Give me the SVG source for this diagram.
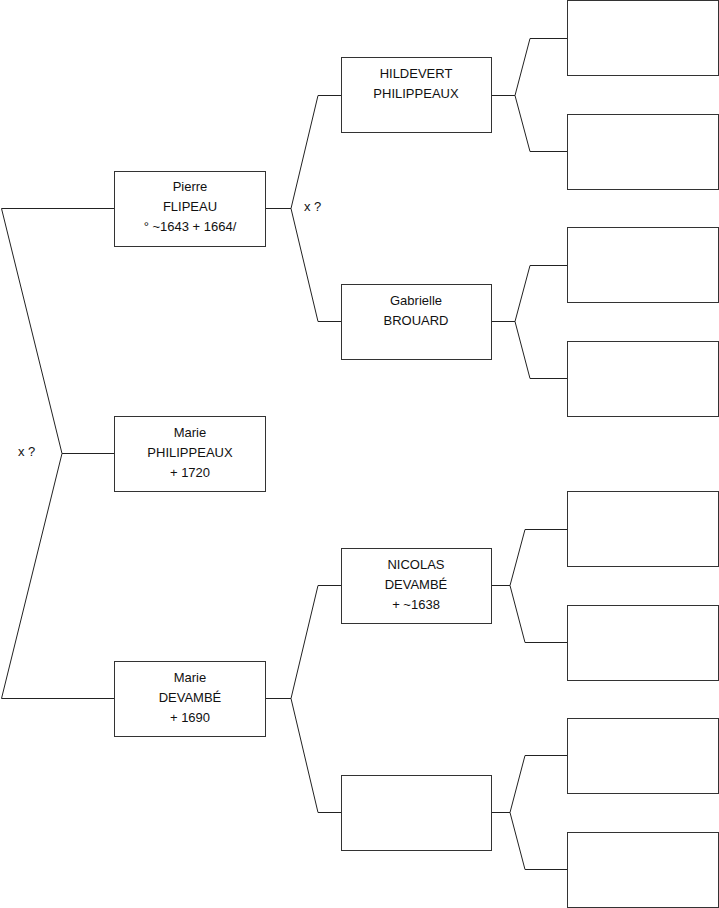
<svg xmlns="http://www.w3.org/2000/svg" width="719" height="908" viewBox="0 0 719 908">
<style>
.box{fill:#fff;stroke:#333;stroke-width:1}
.ln{fill:none;stroke:#222;stroke-width:1}
text{font-family:"Liberation Sans",Arial,sans-serif;font-size:13px;fill:#111;text-anchor:middle}
.lbl{text-anchor:start}
</style>
<rect width="719" height="908" fill="#fff"/>
<g id="connectors">
<path class="ln" d="M114,208.5 H1.5 L62,453.5 L1.5,698.5 H114"/>
<path class="ln" d="M62,453.5 H114"/>
<path class="ln" d="M265,208.5 H291 M318,95.5 L291,208.5 L318,321.5 M318,95.5 H341 M318,321.5 H341"/>
<path class="ln" d="M265,698.5 H291 M318,585.5 L291,698.5 L318,812.5 M318,585.5 H341 M318,812.5 H341"/>
<path class="ln" d="M492,95.5 H515 L530,38.5 H567 M515,95.5 L530,151.5 H567"/>
<path class="ln" d="M492,321.5 H515 L530,265.5 H567 M515,321.5 L530,378.5 H567"/>
<path class="ln" d="M492,585.5 H510 L525,529.5 H567 M510,585.5 L525,642.5 H567"/>
<path class="ln" d="M492,812.5 H510 L525,755.5 H567 M510,812.5 L525,869.5 H567"/>
<text class="lbl" x="18" y="456">x ?</text>
<text class="lbl" x="304" y="211">x ?</text>
</g>
<g id="pierre"><rect class="box" x="114.5" y="171.5" width="151" height="75"/>
<text x="190" y="191">Pierre</text><text x="190" y="211">FLIPEAU</text><text x="190" y="231">° ~1643 + 1664/</text></g>
<g id="marie-philippeaux"><rect class="box" x="114.5" y="416.5" width="151" height="75"/>
<text x="190" y="437">Marie</text><text x="190" y="457">PHILIPPEAUX</text><text x="190" y="477">+ 1720</text></g>
<g id="marie-devambe"><rect class="box" x="114.5" y="661.5" width="151" height="75"/>
<text x="190" y="682">Marie</text><text x="190" y="702">DEVAMBÉ</text><text x="190" y="722">+ 1690</text></g>
<g id="hildevert"><rect class="box" x="341.5" y="57.5" width="150" height="75"/>
<text x="416" y="78">HILDEVERT</text><text x="416" y="98">PHILIPPEAUX</text></g>
<g id="gabrielle"><rect class="box" x="341.5" y="284.5" width="150" height="75"/>
<text x="416" y="305">Gabrielle</text><text x="416" y="325">BROUARD</text></g>
<g id="nicolas"><rect class="box" x="341.5" y="548.5" width="150" height="75"/>
<text x="416" y="569">NICOLAS</text><text x="416" y="589">DEVAMBÉ</text><text x="416" y="609">+ ~1638</text></g>
<g id="unknown-g2"><rect class="box" x="341.5" y="775.5" width="150" height="75"/></g>
<g id="g3-1"><rect class="box" x="567.5" y="0.5" width="151" height="75"/></g>
<g id="g3-2"><rect class="box" x="567.5" y="114.5" width="151" height="75"/></g>
<g id="g3-3"><rect class="box" x="567.5" y="227.5" width="151" height="75"/></g>
<g id="g3-4"><rect class="box" x="567.5" y="341.5" width="151" height="75"/></g>
<g id="g3-5"><rect class="box" x="567.5" y="491.5" width="151" height="75"/></g>
<g id="g3-6"><rect class="box" x="567.5" y="605.5" width="151" height="75"/></g>
<g id="g3-7"><rect class="box" x="567.5" y="718.5" width="151" height="75"/></g>
<g id="g3-8"><rect class="box" x="567.5" y="832.5" width="151" height="75"/></g>
</svg>
